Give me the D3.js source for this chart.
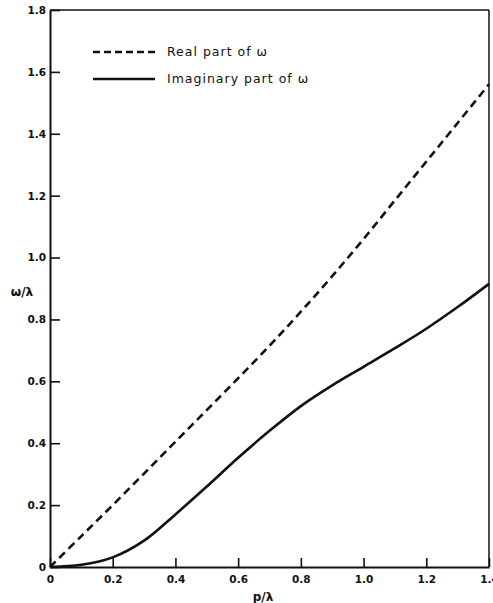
<!DOCTYPE html>
<html lang="en">
<head>
	<meta charset="utf-8">
	<title>omega vs p</title>
	<style>
		body { margin: 0; background: #fff; }
		svg text { font-family: "DejaVu Sans", sans-serif; fill: #111; }
		.axis path, .axis line { stroke: #111; }
		.axis text { font-size: 10.5px; font-weight: bold; }
	</style>
	<script type="text/javascript" src="https://d3js.org/d3.v7.min.js"></script>
</head>
<body>
	<script type="text/javascript">
		// p/lambda sample points and omega/lambda
		var pValues = [0, 0.1, 0.2, 0.3, 0.4, 0.5, 0.6, 0.7, 0.8, 0.9, 1.0, 1.1, 1.2, 1.3, 1.4];
		var realPart = [0, 0.1, 0.2, 0.302, 0.405, 0.507, 0.61, 0.715, 0.825, 0.94, 1.06, 1.185, 1.31, 1.435, 1.56];
		var imagPart = [0, 0.007, 0.031, 0.085, 0.17, 0.26, 0.353, 0.44, 0.52, 0.587, 0.647, 0.707, 0.77, 0.84, 0.915];
		var xTicks = [0, 0.2, 0.4, 0.6, 0.8, 1.0, 1.2, 1.4];
		var yTicks = [0, 0.2, 0.4, 0.6, 0.8, 1.0, 1.2, 1.4, 1.6, 1.8];
		var legendLabels = ["Real part of \u03c9", "Imaginary part of \u03c9"];

		var w = 493;
		var h = 603;
		var plotLeft = 50, plotRight = 489, plotTop = 10, plotBottom = 567;

		var svg = d3.select("body")
			.append("svg")
			.attr("width", w)
			.attr("height", h);

		var xScale = d3.scaleLinear().domain([0, 1.4]).range([plotLeft, plotRight]);
		var yScale = d3.scaleLinear().domain([0, 1.8]).range([plotBottom, plotTop]);

		// frame: top and right are thinner
		svg.append("line")
			.attr("x1", plotLeft).attr("x2", plotRight)
			.attr("y1", plotTop).attr("y2", plotTop)
			.attr("stroke", "#111").attr("stroke-width", 1.5);
		svg.append("line")
			.attr("x1", plotRight).attr("x2", plotRight)
			.attr("y1", plotTop).attr("y2", plotBottom)
			.attr("stroke", "#111").attr("stroke-width", 1.5);

		var xAxis = d3.axisBottom(xScale)
			.tickValues(xTicks)
			.tickSizeInner(-9)
			.tickSizeOuter(0)
			.tickPadding(7)
			.tickFormat(d => d === 0 ? "0" : d3.format(".1f")(d));
		var yAxis = d3.axisLeft(yScale)
			.tickValues(yTicks)
			.tickSizeInner(-10)
			.tickSizeOuter(0)
			.tickPadding(4)
			.tickFormat(d => d === 0 ? "0" : d3.format(".1f")(d));

		var gx = svg.append("g")
			.attr("class", "axis")
			.attr("transform", "translate(0," + plotBottom + ")")
			.call(xAxis);
		gx.select(".domain").attr("stroke-width", 2);
		gx.selectAll(".tick line").attr("stroke-width", 1.6);
		gx.selectAll(".tick text").attr("dy", "0.9em");

		var gy = svg.append("g")
			.attr("class", "axis")
			.attr("transform", "translate(" + plotLeft + ",0)")
			.call(yAxis);
		gy.select(".domain").attr("stroke-width", 2);
		gy.selectAll(".tick line").attr("stroke-width", 1.6);

		// axis titles
		svg.append("text")
			.attr("x", 22).attr("y", 296)
			.attr("text-anchor", "middle")
			.attr("font-size", "12px")
			.attr("font-weight", "bold")
			.text("\u03c9/\u03bb");
		svg.append("text")
			.attr("x", 263).attr("y", 601)
			.attr("text-anchor", "middle")
			.attr("font-size", "12px")
			.attr("font-weight", "bold")
			.text("p/\u03bb");

		var line = d3.line()
			.x(d => xScale(d[0]))
			.y(d => yScale(d[1]))
			.curve(d3.curveCatmullRom);

		svg.append("path")
			.datum(pValues.map((p, i) => [p, realPart[i]]))
			.attr("d", line)
			.attr("fill", "none")
			.attr("stroke", "#111")
			.attr("stroke-width", 2.6)
			.attr("stroke-dasharray", "8,5");

		svg.append("path")
			.datum(pValues.map((p, i) => [p, imagPart[i]]))
			.attr("d", line)
			.attr("fill", "none")
			.attr("stroke", "#111")
			.attr("stroke-width", 2.6);

		// legend
		var legend = svg.selectAll("g.legend")
			.data(legendLabels)
			.enter()
			.append("g")
			.attr("class", "legend")
			.attr("transform", (_, i) => "translate(0," + (52 + i * 27) + ")");
		legend.append("line")
			.attr("x1", 93).attr("x2", 155)
			.attr("y1", 0).attr("y2", 0)
			.attr("stroke", "#111")
			.attr("stroke-width", 2.4)
			.attr("stroke-dasharray", (_, i) => i === 0 ? "7,4" : null);
		legend.append("text")
			.attr("x", 167)
			.attr("y", 0)
			.attr("dy", "0.35em")
			.attr("font-size", "12.5px")
			.attr("letter-spacing", "1px")
			.text(d => d);
	</script>
</body>
</html>
